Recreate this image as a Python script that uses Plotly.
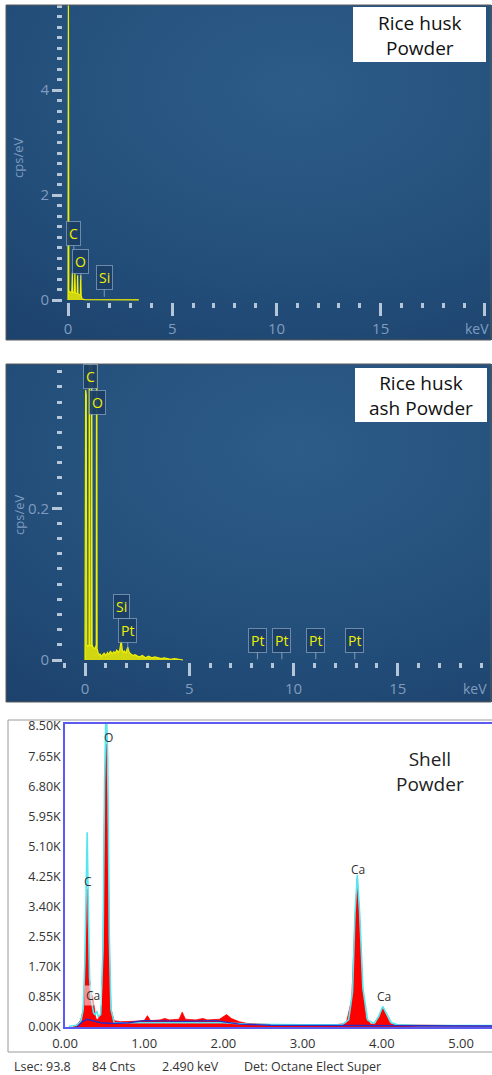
import plotly.graph_objects as go

# ---------------- data ----------------
# Panel 1: Rice husk powder spectrum (keV, cps/eV)
rh_kev = [0.00, 0.01, 0.02, 0.04, 0.10, 0.18, 0.21, 0.23, 0.26, 0.31, 0.33, 0.35, 0.39, 0.44,
          0.46, 0.48, 0.53, 0.59, 0.61, 0.63, 0.68, 0.80, 1.20, 1.60, 1.74, 1.90, 2.50, 3.40]
rh_cps = [0.00, 6.00, 6.00, 0.18, 0.15, 0.15, 0.52, 0.15, 0.14, 0.15, 0.52, 0.14, 0.12, 0.13,
          0.47, 0.12, 0.10, 0.10, 0.47, 0.08, 0.02, 0.006, 0.005, 0.006, 0.012, 0.005, 0.004, 0.003]
rh_labels = ["C", "O", "Si"]
rh_label_kev = [0.28, 0.62, 1.74]
rh_label_cps = [0.90, 0.38, 0.06]

# Panel 2: Rice husk ash powder spectrum (keV, cps/eV)
rha_kev = [0.00, 0.01, 0.03, 0.06, 0.09, 0.14, 0.19, 0.21, 0.23, 0.28, 0.30, 0.32, 0.34, 0.40,
           0.47, 0.54, 0.56, 0.58, 0.62, 0.66, 0.72, 0.78, 0.85, 0.92, 1.00, 1.08, 1.15, 1.22,
           1.30, 1.38, 1.45, 1.52, 1.60, 1.67, 1.74, 1.80, 1.88, 1.95, 2.05, 2.12, 2.20, 2.30,
           2.40, 2.50, 2.60, 2.75, 2.90, 3.05, 3.20, 3.35, 3.50, 3.65, 3.80, 3.95, 4.10, 4.30,
           4.50, 4.70]
rha_cps = [0.000, 0.356, 0.356, 0.350, 0.020, 0.018, 0.020, 0.600, 0.020, 0.018, 0.020, 0.600,
           0.020, 0.016, 0.015, 0.020, 0.600, 0.015, 0.010, 0.006, 0.008, 0.005, 0.007, 0.009,
           0.006, 0.010, 0.007, 0.012, 0.008, 0.011, 0.009, 0.013, 0.010, 0.014, 0.026, 0.010,
           0.012, 0.009, 0.017, 0.010, 0.008, 0.006, 0.007, 0.005, 0.004, 0.006, 0.003, 0.005,
           0.003, 0.004, 0.003, 0.002, 0.003, 0.002, 0.001, 0.002, 0.001, 0.000]
rha_labels = ["Si", "Pt", "Pt", "Pt", "Pt", "Pt"]
rha_label_kev = [1.74, 2.05, 8.27, 9.44, 11.07, 12.94]
rha_label_cps = [0.046, 0.014, 0.001, 0.001, 0.001, 0.001]
rha_top_labels = ["C", "O"]
rha_top_kev = [0.28, 0.58]
rha_top_cps = [0.374, 0.340]

# Panel 3: Shell powder spectrum (keV, K counts)
sh_kev = [0.10, 0.16, 0.20, 0.23, 0.25, 0.27, 0.28, 0.29, 0.31, 0.33, 0.35, 0.37, 0.39, 0.41,
          0.43, 0.46, 0.48, 0.50, 0.52, 0.54, 0.56, 0.58, 0.62, 0.70, 0.85, 1.00, 1.04, 1.08,
          1.20, 1.26, 1.32, 1.44, 1.48, 1.52, 1.65, 1.74, 1.80, 1.95, 2.04, 2.10, 2.20, 2.30,
          2.60, 3.00, 3.40, 3.55, 3.62, 3.66, 3.69, 3.72, 3.76, 3.80, 3.86, 3.92, 3.97, 4.01,
          4.05, 4.10, 4.18, 4.40, 5.00, 5.40]
sh_cnts = [0.00, 0.08, 0.20, 0.50, 1.50, 3.20, 3.90, 2.80, 1.30, 0.95, 0.85, 0.55, 0.25, 0.20,
           0.28, 0.40, 2.00, 6.50, 8.00, 6.00, 2.20, 0.50, 0.18, 0.15, 0.16, 0.18, 0.32, 0.18,
           0.20, 0.24, 0.20, 0.22, 0.42, 0.22, 0.20, 0.24, 0.20, 0.22, 0.35, 0.24, 0.15, 0.10,
           0.07, 0.06, 0.06, 0.10, 0.80, 3.00, 4.20, 3.00, 1.00, 0.25, 0.08, 0.10, 0.30, 0.55,
           0.35, 0.12, 0.06, 0.05, 0.04, 0.04]
fit_kev = [0.05, 0.15, 0.20, 0.23, 0.25, 0.27, 0.28, 0.29, 0.31, 0.33, 0.36, 0.38, 0.40, 0.42,
           0.45, 0.48, 0.50, 0.52, 0.54, 0.56, 0.58, 0.62, 0.80, 1.00, 1.50, 2.00, 2.30, 3.00,
           3.50, 3.58, 3.63, 3.66, 3.69, 3.72, 3.76, 3.82, 3.90, 3.96, 4.01, 4.06, 4.12, 4.20,
           4.50, 5.40]
fit_cnts = [0.02, 0.05, 0.15, 0.50, 1.80, 5.00, 5.50, 4.00, 1.40, 0.80, 0.40, 0.35, 0.45, 0.30,
            0.35, 2.20, 7.00, 9.20, 7.50, 2.50, 0.50, 0.12, 0.12, 0.12, 0.12, 0.12, 0.08, 0.06,
            0.07, 0.20, 1.00, 3.20, 4.30, 3.20, 1.10, 0.20, 0.10, 0.30, 0.58, 0.35, 0.12, 0.06,
            0.04, 0.04]
bkg_kev = [0.15, 0.22, 0.28, 0.35, 0.45, 0.60, 0.80, 1.00, 1.50, 1.90, 2.00, 2.20, 2.60, 3.50,
           4.50, 5.40]
bkg_cnts = [0.00, 0.15, 0.22, 0.18, 0.12, 0.10, 0.12, 0.18, 0.16, 0.18, 0.15, 0.08, 0.05, 0.04,
            0.03, 0.03]
sh_labels = ["O", "C", "Ca", "Ca", "Ca"]
sh_label_kev = [0.544, 0.29, 0.357, 3.70, 4.03]
sh_label_cnts = [8.19, 4.10, 0.90, 4.46, 0.85]

sh_ytick_vals = [0.0, 0.85, 1.70, 2.55, 3.40, 4.25, 5.10, 5.95, 6.80, 7.65, 8.50]
sh_ytick_text = ["0.00K", "0.85K", "1.70K", "2.55K", "3.40K", "4.25K", "5.10K", "5.95K",
                 "6.80K", "7.65K", "8.50K"]
sh_xtick_vals = [0, 1, 2, 3, 4, 5]
sh_xtick_text = ["0.00", "1.00", "2.00", "3.00", "4.00", "5.00"]
footer_text = ["Lsec: 93.8", "84 Cnts", "2.490 keV", "Det: Octane Elect Super"]
sample_names = ["Rice husk<br>Powder", "Rice husk<br>ash Powder", "Shell<br>Powder"]

# ---------------- helpers ----------------
W, H = 492, 1075


def px(x):
    return x / W


def py(y):
    return 1 - y / H


FONT = "Open Sans"
TICKCOL = "#b4c6d8"
LABCOL = "#7f9cbf"
YEL = "#f0f000"

fig = go.Figure()

# background gradient panels (subplots 1 and 2)
for ax in ["", "2"]:
    fig.add_trace(go.Scatter(
        x=[-0.5, 1.7, 1.7, -0.5, -0.5], y=[-0.3, -0.3, 1.8, 1.8, -0.3],
        mode="lines", line=dict(width=0), fill="toself",
        fillgradient=dict(type="radial",
                          colorscale=[[0, "#2d5c88"], [0.55, "#234e7a"], [1, "#1a3e68"]]),
        xaxis="x" + ax, yaxis="y" + ax, hoverinfo="skip", showlegend=False))

# panel 1 spectrum
fig.add_trace(go.Scatter(x=rh_kev, y=rh_cps, mode="lines", fill="tozeroy",
                         line=dict(color=YEL, width=1.2), fillcolor="rgba(240,240,0,0.85)",
                         xaxis="x3", yaxis="y3", hoverinfo="skip", showlegend=False))
# panel 2 spectrum
fig.add_trace(go.Scatter(x=rha_kev, y=rha_cps, mode="lines", fill="tozeroy",
                         line=dict(color=YEL, width=1.2), fillcolor="rgba(240,240,0,0.85)",
                         xaxis="x4", yaxis="y4", hoverinfo="skip", showlegend=False))
# panel 3 spectra
fig.add_trace(go.Scatter(x=sh_kev, y=sh_cnts, mode="lines", fill="tozeroy",
                         line=dict(color="#ff0000", width=0.8), fillcolor="#ff0000",
                         xaxis="x5", yaxis="y5", hoverinfo="skip", showlegend=False))
fig.add_trace(go.Scatter(x=fit_kev, y=fit_cnts, mode="lines",
                         line=dict(color="#55e6f0", width=1.6),
                         xaxis="x5", yaxis="y5", hoverinfo="skip", showlegend=False))
fig.add_trace(go.Scatter(x=bkg_kev, y=bkg_cnts, mode="lines",
                         line=dict(color="#2a2ac8", width=1.4),
                         xaxis="x5", yaxis="y5", hoverinfo="skip", showlegend=False))

hidden = dict(visible=False, range=[0, 1], fixedrange=True, automargin=False)

dark_x = dict(ticks="outside", ticklen=13, tickwidth=2.5, tickcolor=TICKCOL,
              showgrid=False, zeroline=False, showline=False, automargin=False,
              tickfont=dict(family=FONT, size=15, color=LABCOL))
dark_y = dict(ticks="outside", ticklen=10, tickwidth=2.5, tickcolor=TICKCOL,
              showgrid=False, zeroline=False, showline=False, automargin=False,
              tickfont=dict(family=FONT, size=15, color=LABCOL))

fig.update_layout(
    template="none",
    width=W, height=H, margin=dict(l=0, r=0, t=0, b=0, pad=0, autoexpand=False),
    paper_bgcolor="white", plot_bgcolor="rgba(0,0,0,0)", showlegend=False,
    xaxis=dict(domain=[px(6), 1], anchor="y", **hidden),
    yaxis=dict(domain=[py(340), py(5)], anchor="x", **hidden),
    xaxis2=dict(domain=[px(6), 1], anchor="y2", **hidden),
    yaxis2=dict(domain=[py(702), py(364)], anchor="x2", **hidden),
    xaxis3=dict(domain=[px(63), 1], anchor="y3", range=[-0.24, 20.34],
                tickmode="array", tickvals=[0, 5, 10, 15, 20],
                ticktext=["0", "5", "10", "15", ""],
                minor=dict(tickmode="linear", tick0=0, dtick=1, ticks="outside", ticklen=5,
                           tickwidth=2.5, tickcolor=TICKCOL),
                **dark_x),
    yaxis3=dict(domain=[py(302), py(5)], anchor="x3", range=[-0.038, 5.62],
                tickmode="array", tickvals=[0, 2, 4], ticktext=["0", "2", "4"],
                minor=dict(tickmode="linear", tick0=0, dtick=0.2, ticks="outside", ticklen=5,
                           tickwidth=2.5, tickcolor=TICKCOL),
                **dark_y),
    xaxis4=dict(domain=[px(63), 1], anchor="y4", range=[-1.055, 19.52],
                tickmode="array", tickvals=[0, 5, 10, 15], ticktext=["0", "5", "10", "15"],
                minor=dict(tickmode="linear", tick0=0, dtick=1, ticks="outside", ticklen=5,
                           tickwidth=2.5, tickcolor=TICKCOL),
                **dark_x),
    yaxis4=dict(domain=[py(662), py(364)], anchor="x4", range=[-0.0026, 0.3902],
                tickmode="array", tickvals=[0, 0.2], ticktext=["0", "0.2"],
                minor=dict(tickmode="linear", tick0=0, dtick=0.02, ticks="outside", ticklen=5,
                           tickwidth=2.5, tickcolor=TICKCOL),
                **dark_y),
    xaxis5=dict(domain=[px(65), 1], anchor="y5", range=[0, 5.39], automargin=False,
                tickmode="array", tickvals=sh_xtick_vals, ticktext=sh_xtick_text,
                ticks="", showgrid=False, zeroline=False, showline=True, mirror=True,
                linecolor="#5a5af0", linewidth=1.5, ticklabelstandoff=4,
                tickfont=dict(family=FONT, size=13, color="#333")),
    yaxis5=dict(domain=[py(1027), py(724)], anchor="x5", range=[0, 8.56], automargin=False,
                tickmode="array", tickvals=sh_ytick_vals, ticktext=sh_ytick_text,
                ticks="", showgrid=False, zeroline=False, showline=True, mirror=True,
                linecolor="#5a5af0", linewidth=1.5,
                tickfont=dict(family=FONT, size=12.5, color="#333")),
)

shapes = []
# dark panel borders
for (y0, y1) in [(5, 340), (364, 702)]:
    shapes.append(dict(type="rect", xref="paper", yref="paper", x0=px(6), x1=px(491),
                       y0=py(y1), y1=py(y0), line=dict(color="#5a5a5a", width=1)))
# white name boxes
shapes.append(dict(type="rect", xref="paper", yref="paper", x0=px(353), x1=px(486),
                   y0=py(62), y1=py(7), fillcolor="white", line=dict(width=0)))
shapes.append(dict(type="rect", xref="paper", yref="paper", x0=px(355), x1=px(487),
                   y0=py(422), y1=py(368), fillcolor="white", line=dict(width=0)))
# shell panel outer frame
shapes.append(dict(type="rect", xref="paper", yref="paper", x0=px(8), x1=px(495),
                   y0=py(1052), y1=py(720), line=dict(color="#9a9a9a", width=1)))
fig.update_layout(shapes=shapes)

CM = dict(xanchor="center", yanchor="middle")
ann = []
box = dict(bgcolor="rgba(27,62,102,0.92)", bordercolor="rgba(150,175,200,0.65)",
           borderwidth=1, borderpad=2, font=dict(family=FONT, size=14, color=YEL))
arrow = dict(showarrow=True, arrowhead=0, arrowwidth=1, arrowcolor="rgba(150,175,200,0.8)",
             ax=0, ay=-19)
for t, xv, yv in zip(rh_labels, rh_label_kev, rh_label_cps):
    ann.append(dict(text=t, x=xv, y=yv, xref="x3", yref="y3", **box, **arrow))
for t, xv, yv in zip(rha_labels, rha_label_kev, rha_label_cps):
    ann.append(dict(text=t, x=xv, y=yv, xref="x4", yref="y4", **box, **arrow))
for t, xv, yv in zip(rha_top_labels, rha_top_kev, rha_top_cps):
    ann.append(dict(text=t, x=xv, y=yv, xref="x4", yref="y4", showarrow=False, **CM, **box))

# axis titles / units in dark panels
lab = dict(family=FONT, size=13, color=LABCOL)
ann.append(dict(text="cps/eV", x=px(18), y=py(158), xref="paper", yref="paper",
                textangle=-90, showarrow=False, font=lab, **CM))
ann.append(dict(text="cps/eV", x=px(19), y=py(515), xref="paper", yref="paper",
                textangle=-90, showarrow=False, font=lab, **CM))
ann.append(dict(text="keV", x=px(491), y=py(328), xref="paper", yref="paper",
                xanchor="right", yanchor="middle", showarrow=False,
                font=dict(family=FONT, size=14, color=LABCOL)))
ann.append(dict(text="keV", x=px(489), y=py(688), xref="paper", yref="paper",
                xanchor="right", yanchor="middle", showarrow=False,
                font=dict(family=FONT, size=14, color=LABCOL)))

# sample names
name_pos = [(420, 36, "#111"), (421, 395, "#111"), (430, 771, "#222")]
for t, (xx, yy, col) in zip(sample_names, name_pos):
    ann.append(dict(text=t, x=px(xx), y=py(yy), xref="paper", yref="paper",
                    showarrow=False, font=dict(family=FONT, size=19, color=col), **CM))

# shell peak labels
for t, xv, yv in zip(sh_labels, sh_label_kev, sh_label_cnts):
    ann.append(dict(text=t, x=xv, y=yv, xref="x5", yref="y5", showarrow=False,
                    bgcolor="rgba(255,255,255,0.55)" if (t == "Ca" and xv < 1) else None,
                    font=dict(family=FONT, size=12, color="#333"), **CM))

# footer
for t, xx in zip(footer_text, [12, 90, 160, 242]):
    ann.append(dict(text=t, x=px(xx), y=py(1066), xref="paper", yref="paper",
                    xanchor="left", yanchor="middle", showarrow=False,
                    font=dict(family=FONT, size=12.5, color="#333")))

fig.update_layout(annotations=ann)

fig.write_html("out.html", config={"displayModeBar": False},
               post_script="document.body.style.margin='0';"
                           "document.body.style.overflow='hidden';")
